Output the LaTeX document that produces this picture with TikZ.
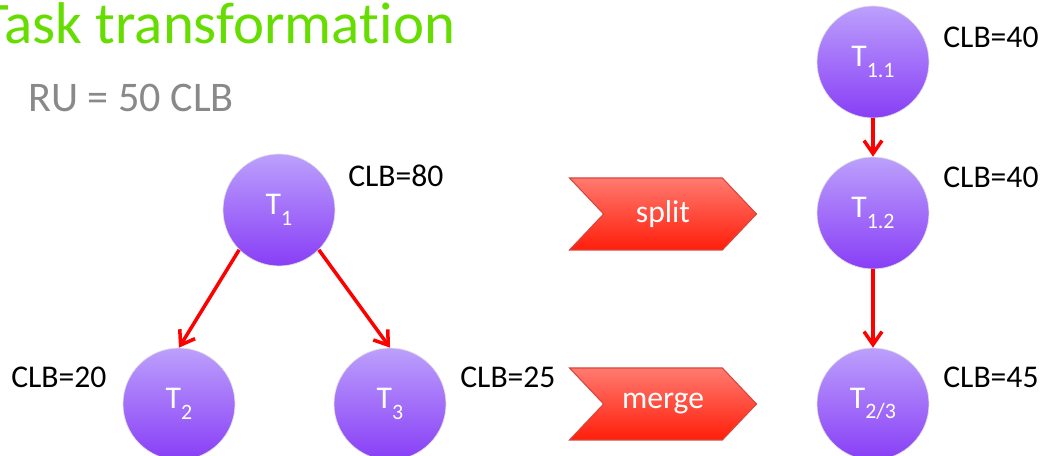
\documentclass[tikz,border=0pt]{standalone}
\usepackage{fontspec}
\setmainfont{Carlito}[RawFeature={-liga;-clig;-calt;-dlig}]
\usetikzlibrary{arrows.meta,shapes.symbols}

\definecolor{titlegreen}{RGB}{102,221,0}
\definecolor{rugray}{RGB}{137,137,137}
\definecolor{tasktop}{RGB}{188,160,252}
\definecolor{taskbot}{RGB}{136,62,246}
\definecolor{chevtop}{RGB}{255,122,112}
\definecolor{chevbot}{RGB}{255,30,10}
\definecolor{chevedge}{RGB}{215,70,60}

\newcommand{\tname}[1]{T\raisebox{-6pt}{\fontsize{12.5}{12.5}\selectfont #1}}

\tikzset{
  task/.style={circle, minimum size=2.24cm, inner sep=0pt, top color=tasktop,
    bottom color=taskbot, draw=black!12, line width=0.4pt, text=white,
    font=\fontsize{18}{18}\selectfont},
  clb/.style={anchor=base west, inner sep=0pt, font=\fontsize{18}{18}\selectfont},
  chev/.style={signal, signal from=west, signal to=east, signal pointer angle=93,
    minimum width=3.74cm, minimum height=1.44cm, inner sep=0pt, top color=chevtop,
    bottom color=chevbot, draw=chevedge, line width=0.6pt, text=white,
    font=\fontsize{18}{18}\selectfont},
  link/.style={red, line width=2pt, -{Straight Barb[length=2.6mm,width=3.6mm]}}
}

\begin{document}
\begin{tikzpicture}

    \useasboundingbox (0,0) rectangle (20.92,9.12);

    % titulo
    \node[anchor=base west, inner sep=0pt, text=titlegreen, font=\fontsize{33.5}{33.5}\selectfont] (title) at (-0.40,8.24) {Task transforma\kern0pt tion};
    \node[anchor=base west, inner sep=0pt, text=rugray, font=\fontsize{24}{24}\selectfont] (ru) at (0.56,6.88) {RU = 50 CLB};

    % arbol original
    \node[task] (t1) at (5.58,4.92) {\tname{1}};
    \node[task] (t2) at (3.58,1.04) {\tname{2}};
    \node[task] (t3) at (7.80,1.04) {\tname{3}};
    \draw[link] (t1.-135) -- (t2.north);
    \draw[link] (t1.-45) -- (t3.north);

    % transformaciones
    \node[chev] (split) at (13.26,4.84) {split};
    \node[chev] (merge) at (13.26,1.04) {merge};

    % cadena resultante
    \node[task] (t11) at (17.46,7.88) {\tname{1.1}};
    \node[task] (t12) at (17.46,4.86) {\tname{1.2}};
    \node[task] (t23) at (17.46,1.04) {\tname{2/3}};
    \draw[link] (t11) -- (t12);
    \draw[link] (t12) -- (t23);

    % etiquetas CLB
    \node[clb] (c1) at (6.96,5.38) {CLB=80};
    \node[clb] (c2) at (0.22,1.36) {CLB=20};
    \node[clb] (c3) at (9.20,1.36) {CLB=25};
    \node[clb] (c11) at (18.86,8.16) {CLB=40};
    \node[clb] (c12) at (18.86,5.36) {CLB=40};
    \node[clb] (c23) at (18.86,1.36) {CLB=45};

\end{tikzpicture}
\end{document}
